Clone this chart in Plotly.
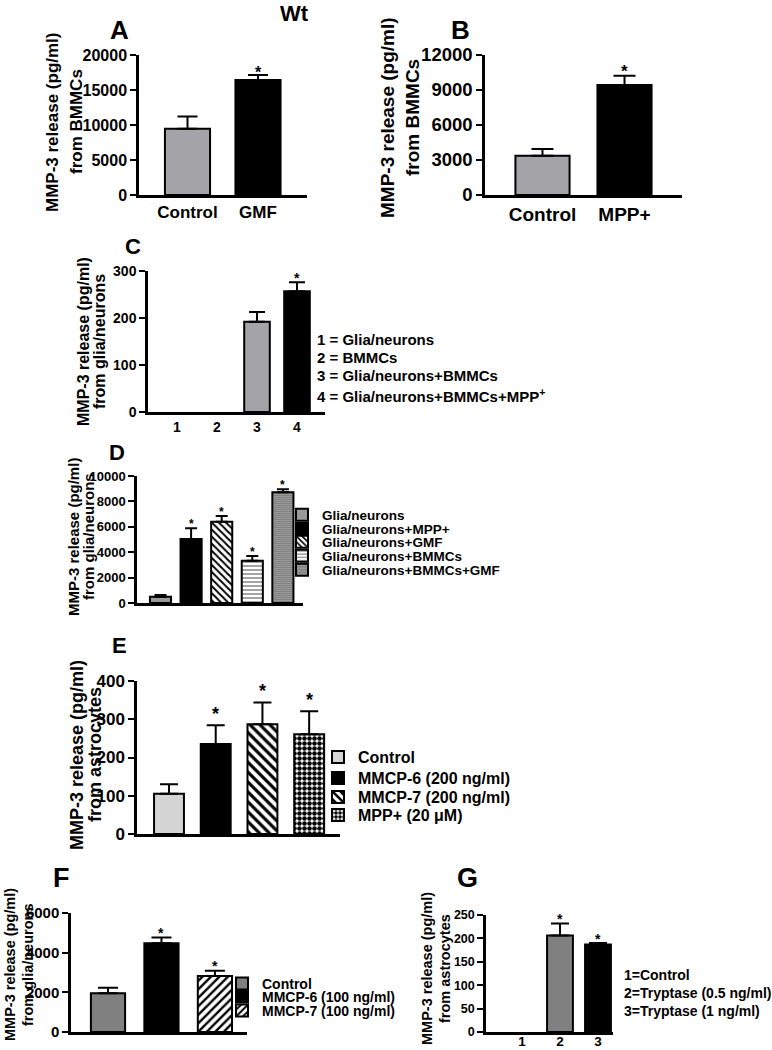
import plotly.graph_objects as go

W, H = 772, 1050
FONT = "Liberation Sans"

# ---------------- data ----------------
A_categories = ["Control", "GMF"]
A_values = [9470, 16430]
A_errors = [1730, 710]
A_stars = [False, True]

B_categories = ["Control", "MPP+"]
B_values = [3370, 9430]
B_errors = [570, 800]
B_stars = [False, True]

C_categories = ["1", "2", "3", "4"]
C_values = [0, 0, 192, 257]
C_errors = [0, 0, 21, 19]
C_stars = [False, False, False, True]
C_legend = ["1 = Glia/neurons", "2 = BMMCs", "3 = Glia/neurons+BMMCs",
            "4 = Glia/neurons+BMMCs+MPP<sup>+</sup>"]

D_categories = ["Glia/neurons", "Glia/neurons+MPP+", "Glia/neurons+GMF",
                "Glia/neurons+BMMCs", "Glia/neurons+BMMCs+GMF"]
D_values = [500, 5040, 6400, 3330, 8720]
D_errors = [130, 840, 450, 370, 230]
D_stars = [False, True, True, True, True]

E_categories = ["Control", "MMCP-6 (200 ng/ml)", "MMCP-7 (200 ng/ml)", "MPP+ (20 μM)"]
E_values = [105, 235, 287, 261]
E_errors = [25, 49, 57, 60]
E_stars = [False, True, True, True]

F_categories = ["Control", "MMCP-6 (100 ng/ml)", "MMCP-7 (100 ng/ml)"]
F_values = [1950, 4480, 2820]
F_errors = [280, 290, 270]
F_stars = [False, True, True]

G_categories = ["1", "2", "3"]
G_values = [0, 206, 187]
G_errors = [0, 26, 3]
G_stars = [False, True, True]
G_legend = ["1=Control", "2=Tryptase (0.5 ng/ml)", "3=Tryptase (1 ng/ml)"]

YTITLE1 = "MMP-3 release (pg/ml)"

# ---------------- styles / layout ----------------
GRAY = "#a3a3a8"
SOLID = lambda c: dict(color=c)
PAT = lambda shape, size, sol, fg="black": dict(color="white", pattern=dict(
    shape=shape, size=size, solidity=sol, fgcolor=fg, bgcolor="white", fillmode="replace"))

panels = [
    dict(letter="A", lpos=(119, 30, 26),
         cats=A_categories, vals=A_values, errs=A_errors, stars=A_stars,
         xpx=(139, 307), ypx=(55, 195), xr=(-0.688, 1.695), ymax=20000, dtick=5000,
         tick=16, cat=17, catoff=0, showcat=True, barw=0.64, cap=10,
         styles=[SOLID(GRAY), SOLID("black")],
         star=16, sshift=3,
         ytitle=(17, 53, 77, 122, "from BMMCs")),
    dict(letter="B", lpos=(460, 30, 26),
         cats=B_categories, vals=B_values, errs=B_errors, stars=B_stars,
         xpx=(485, 682), ypx=(55, 195), xr=(-0.701, 1.701), ymax=12000, dtick=3000,
         tick=18.5, cat=19, catoff=0, showcat=True, barw=0.66, cap=11,
         styles=[SOLID(GRAY), SOLID("black")],
         star=17, sshift=4,
         ytitle=(19, 388, 413, 118, "from BMMCs")),
    dict(letter="C", lpos=(133, 246, 22),
         cats=C_categories, vals=C_values, errs=C_errors, stars=C_stars,
         xpx=(148, 325), ypx=(271, 412), xr=(-0.725, 3.7), ymax=300, dtick=100,
         tick=14, cat=14, catoff=0, showcat=True, barw=0.64, cap=8,
         styles=[SOLID(GRAY), SOLID(GRAY), SOLID(GRAY), SOLID("black")],
         star=14, sshift=4,
         ytitle=(16, 83, 99, 342, "from glia/neurons"),
         textlegend=(C_legend, 315, [339, 357, 376, 395], 15)),
    dict(letter="D", lpos=(117, 452, 22),
         cats=D_categories, vals=D_values, errs=D_errors, stars=D_stars,
         xpx=(137, 303), ypx=(476, 603), xr=(-0.768, 4.657), ymax=10000, dtick=2000,
         tick=13, cat=13, catoff=0, showcat=False, barw=0.69, cap=6,
         styles=[SOLID("#999999"), SOLID("black"), PAT("\\", 5, 0.4),
                 PAT("-", 4, 0.3, "#666666"), PAT(".", 2, 0.6, "#222222")],
         star=12, sshift=4.5,
         ytitle=(15, 73, 88, 537, "from glia/neurons"),
         legend=(282, [515, 529, 542, 556, 570], 13.5)),
    dict(letter="E", lpos=(119, 645, 22),
         cats=E_categories, vals=E_values, errs=E_errors, stars=E_stars,
         xpx=(137, 340), ypx=(681, 834), xr=(-0.685, 3.66), ymax=400, dtick=100,
         tick=17, cat=17, catoff=0, showcat=False, barw=0.64, cap=9,
         styles=[SOLID("#d4d4d4"), SOLID("black"), PAT("\\", 7, 0.45), PAT(".", 5, 0.65)],
         star=18, sshift=11,
         ytitle=(18, 77, 95, 755, "from astrocytes"),
         legend=(318, [757, 778, 797, 815], 16)),
    dict(letter="F", lpos=(62, 878, 27),
         cats=F_categories, vals=F_values, errs=F_errors, stars=F_stars,
         xpx=(71, 247), ypx=(913, 1032), xr=(-0.692, 2.6), ymax=6000, dtick=2000,
         tick=15, cat=15, catoff=0, showcat=False, barw=0.64, cap=10,
         styles=[SOLID("#808080"), SOLID("black"), PAT("/", 6, 0.4)],
         star=14, sshift=4.5,
         ytitle=(14.5, 10, 28, 965, "from glia/neurons"),
         legend=(222, [984, 997, 1011], 14)),
    dict(letter="G", lpos=(467, 878, 27),
         cats=G_categories, vals=G_values, errs=G_errors, stars=G_stars,
         xpx=(486, 613), ypx=(915, 1032), xr=(-0.947, 2.395), ymax=250, dtick=50,
         tick=12.5, cat=13.5, catoff=-5, showcat=True, barw=0.68, cap=9,
         styles=[SOLID("#808080"), SOLID("#808080"), SOLID("black")],
         star=14, sshift=4,
         ytitle=(14.5, 427, 445, 969, "from astrocytes"),
         textlegend=(G_legend, 622, [975, 993, 1011], 14)),
]


def fx(px):
    return px / W


def fy(py):
    return 1 - py / H


def bold(size):
    return dict(family=FONT, size=size, color="black", weight="bold")


fig = go.Figure()
annotations = []
layout = {}
legend_n = 0

for i, p in enumerate(panels):
    sid = "" if i == 0 else str(i + 1)
    xa, ya = "x" + sid, "y" + sid
    for j, (cat, val, err) in enumerate(zip(p["cats"], p["vals"], p["errs"])):
        st = p["styles"][j]
        marker = dict(color=st["color"], line=dict(color="black", width=2 if val > 0 else 0))
        if "pattern" in st:
            marker["pattern"] = st["pattern"]
        tr = go.Bar(
            x=[cat], y=[val], width=p["barw"], marker=marker, xaxis=xa, yaxis=ya,
            name=cat, showlegend=False, hoverinfo="skip",
            error_y=dict(type="data", symmetric=False, array=[err], arrayminus=[0],
                         color="black", thickness=2, width=p["cap"], visible=err > 0),
        )
        if "legend" in p:
            legend_n += 1
            lkey = "legend" if legend_n == 1 else f"legend{legend_n}"
            lx, lys, lsize = p["legend"]
            tr.update(showlegend=True, legend=lkey)
            layout[lkey] = dict(x=fx(lx), y=fy(lys[j]), xanchor="left", yanchor="middle",
                                bgcolor="rgba(0,0,0,0)", borderwidth=0,
                                font=bold(lsize), itemclick=False, itemdoubleclick=False)
        fig.add_trace(tr)
        if p["stars"][j]:
            # category axis: position the star by the category index
            annotations.append(dict(xref=xa, yref=ya, x=j, y=val + err, text="*",
                                    showarrow=False, yanchor="middle", xanchor="center",
                                    yshift=p["sshift"], font=bold(p["star"])))

    layout["xaxis" + sid] = dict(
        domain=[fx(p["xpx"][0]), fx(p["xpx"][1])], anchor=ya, type="category",
        categoryorder="array", categoryarray=p["cats"], range=list(p["xr"]),
        showline=True, linecolor="black", linewidth=2.5, ticks="", showgrid=False,
        zeroline=False, showticklabels=p["showcat"], tickfont=bold(p["cat"]),
        ticklabelstandoff=p["catoff"], automargin=False, fixedrange=True)
    layout["yaxis" + sid] = dict(
        domain=[fy(p["ypx"][1]), fy(p["ypx"][0])], anchor=xa, range=[0, p["ymax"]],
        dtick=p["dtick"], tick0=0, tickformat="d", ticks="outside", ticklen=6,
        tickwidth=2, tickcolor="black", showline=True, linecolor="black", linewidth=2.5,
        showgrid=False, zeroline=False, tickfont=bold(p["tick"]), automargin=False,
        fixedrange=True)

    # y-axis title, two lines
    fs, x1, x2, yc, line2 = p["ytitle"]
    for xx, txt in ((x1, YTITLE1), (x2, line2)):
        annotations.append(dict(xref="paper", yref="paper", x=fx(xx), y=fy(yc), text=txt,
                                textangle=-90, showarrow=False, xanchor="center",
                                yanchor="middle", font=bold(fs)))
    # panel letter
    lxp, lyp, lsz = p["lpos"]
    annotations.append(dict(xref="paper", yref="paper", x=fx(lxp), y=fy(lyp), text=p["letter"],
                            showarrow=False, xanchor="center", yanchor="middle",
                            font=bold(lsz)))
    # text legends
    if "textlegend" in p:
        lines, tx, tys, tsz = p["textlegend"]
        for txt, ty in zip(lines, tys):
            annotations.append(dict(xref="paper", yref="paper", x=fx(tx), y=fy(ty), text=txt,
                                    showarrow=False, xanchor="left", yanchor="middle",
                                    font=bold(tsz)))

annotations.append(dict(xref="paper", yref="paper", x=fx(294), y=fy(13), text="Wt",
                        showarrow=False, xanchor="center", yanchor="middle", font=bold(22)))

fig.update_layout(
    width=W, height=H, margin=dict(l=0, r=0, t=0, b=0, autoexpand=False),
    paper_bgcolor="white", plot_bgcolor="white", barmode="overlay",
    font=bold(14), annotations=annotations, **layout)

fig.write_html("out.html", config={"displayModeBar": False},
               post_script="document.body.style.margin='0px';")
